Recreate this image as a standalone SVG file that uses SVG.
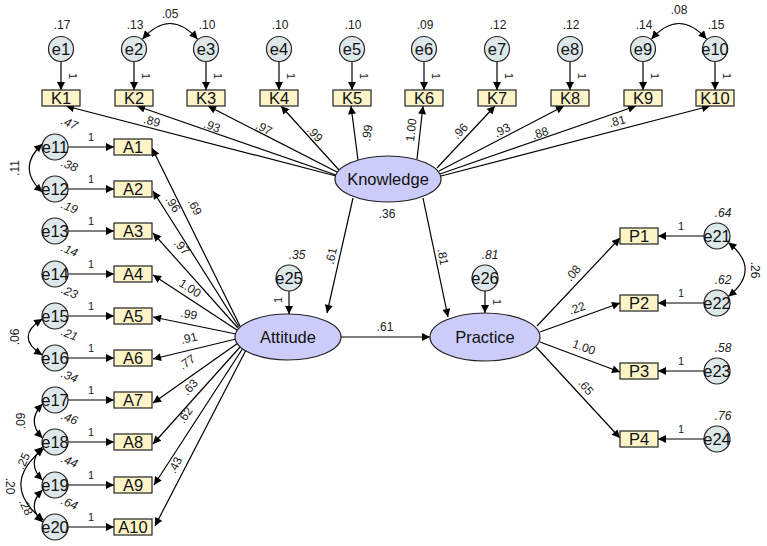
<svg xmlns="http://www.w3.org/2000/svg" width="767" height="546" viewBox="0 0 767 546">
<defs>
<marker id="ah" viewBox="0 0 10 10" refX="10" refY="5" markerWidth="11" markerHeight="8" markerUnits="userSpaceOnUse" orient="auto-start-reverse"><path d="M0,0 L10,5 L0,10 z" fill="#000"/></marker>
<style>
.err{fill:#dde8ea;stroke:#222;stroke-width:1.2}
.obs{fill:#fdf5c8;stroke:#222;stroke-width:1.2}
.lat{fill:#ccccfa;stroke:#222;stroke-width:1.2}
.lbl{font-family:"Liberation Sans",Arial,sans-serif;font-size:16.5px;fill:#111;text-anchor:middle}
.num{font-family:"Liberation Sans",Arial,sans-serif;font-size:12px;fill:#222;text-anchor:middle}
.it{font-style:italic}
.one{font-family:"Liberation Sans",Arial,sans-serif;font-size:11px;fill:#222;text-anchor:middle}
.p{stroke:#000;stroke-width:1.2;fill:none;marker-end:url(#ah)}
.c{stroke:#000;stroke-width:1.2;fill:none;marker-start:url(#ah);marker-end:url(#ah)}
</style>
</defs>
<rect width="767" height="546" fill="#fff"/>

<g id="connectors">
<line class="p" x1="61" y1="61.5" x2="61" y2="90"/>
<line class="p" x1="134" y1="61.5" x2="134" y2="90"/>
<line class="p" x1="206" y1="61.5" x2="206" y2="90"/>
<line class="p" x1="279" y1="61.5" x2="279" y2="90"/>
<line class="p" x1="352" y1="61.5" x2="352" y2="90"/>
<line class="p" x1="424" y1="61.5" x2="424" y2="90"/>
<line class="p" x1="497" y1="61.5" x2="497" y2="90"/>
<line class="p" x1="570" y1="61.5" x2="570" y2="90"/>
<line class="p" x1="643" y1="61.5" x2="643" y2="90"/>
<line class="p" x1="715" y1="61.5" x2="715" y2="90"/>
<path class="c" d="M142.5,39 Q170,8 197.5,39"/>
<path class="c" d="M651.5,39 Q679,8 706.5,39"/>
<line class="p" x1="336" y1="176" x2="66" y2="106"/>
<line class="p" x1="336" y1="175" x2="137" y2="106"/>
<line class="p" x1="337" y1="172" x2="208" y2="106"/>
<line class="p" x1="339" y1="170" x2="281" y2="106"/>
<line class="p" x1="358" y1="160" x2="351" y2="106"/>
<line class="p" x1="417" y1="159" x2="423" y2="106"/>
<line class="p" x1="437" y1="168" x2="495" y2="106"/>
<line class="p" x1="439" y1="171" x2="564" y2="106"/>
<line class="p" x1="440" y1="174" x2="636" y2="106"/>
<line class="p" x1="441" y1="176" x2="710" y2="106"/>
<line class="p" x1="68" y1="147" x2="114" y2="147"/>
<line class="p" x1="68" y1="189" x2="114" y2="189"/>
<line class="p" x1="68" y1="231" x2="114" y2="231"/>
<line class="p" x1="68" y1="274" x2="114" y2="274"/>
<line class="p" x1="68" y1="316" x2="114" y2="316"/>
<line class="p" x1="68" y1="358" x2="114" y2="358"/>
<line class="p" x1="68" y1="400" x2="114" y2="400"/>
<line class="p" x1="68" y1="442" x2="114" y2="442"/>
<line class="p" x1="68" y1="485" x2="114" y2="485"/>
<line class="p" x1="68" y1="527" x2="114" y2="527"/>
<path class="c" d="M42.3,144 Q16,168 42.3,192"/>
<path class="c" d="M42.3,319 Q14,337 42.3,355"/>
<path class="c" d="M42.5,404 Q26,421 42.5,438"/>
<path class="c" d="M42.5,447 Q26,463.5 42.5,480"/>
<path class="c" d="M42.5,490 Q26,506 42.5,522"/>
<path class="c" d="M43.7,448.5 Q-2,485 43.7,520.5"/>
<line class="p" x1="240" y1="326" x2="152" y2="148"/>
<line class="p" x1="239" y1="327" x2="153" y2="191"/>
<line class="p" x1="238" y1="328" x2="153" y2="233"/>
<line class="p" x1="237" y1="330" x2="153" y2="275"/>
<line class="p" x1="236" y1="334" x2="153" y2="317"/>
<line class="p" x1="236" y1="339" x2="153" y2="359"/>
<line class="p" x1="238" y1="343" x2="153" y2="403"/>
<line class="p" x1="241" y1="346" x2="153" y2="444"/>
<line class="p" x1="243" y1="348" x2="154" y2="485"/>
<line class="p" x1="246" y1="350" x2="155" y2="526"/>
<line class="p" x1="353" y1="198" x2="327" y2="313"/>
<line class="p" x1="423" y1="198" x2="448" y2="317"/>
<line class="p" x1="341" y1="337" x2="430" y2="337"/>
<line class="p" x1="289" y1="291" x2="289" y2="314"/>
<line class="p" x1="485" y1="291" x2="485" y2="313"/>
<line class="p" x1="537" y1="326" x2="620" y2="238"/>
<line class="p" x1="540" y1="332" x2="620" y2="303"/>
<line class="p" x1="540" y1="342" x2="620" y2="372"/>
<line class="p" x1="536" y1="347" x2="620" y2="438"/>
<line class="p" x1="704" y1="236" x2="658" y2="236"/>
<line class="p" x1="704" y1="303" x2="658" y2="303"/>
<line class="p" x1="704" y1="371" x2="658" y2="371"/>
<line class="p" x1="704" y1="439" x2="658" y2="439"/>
<path class="c" d="M728.3,242.5 Q762,269.5 728.3,296.5"/>

<g class="one">
<text transform="translate(73,76) rotate(90)" dy=".35em">1</text>
<text transform="translate(146,76) rotate(90)" dy=".35em">1</text>
<text transform="translate(218,76) rotate(90)" dy=".35em">1</text>
<text transform="translate(291,76) rotate(90)" dy=".35em">1</text>
<text transform="translate(364,76) rotate(90)" dy=".35em">1</text>
<text transform="translate(436,76) rotate(90)" dy=".35em">1</text>
<text transform="translate(509,76) rotate(90)" dy=".35em">1</text>
<text transform="translate(582,76) rotate(90)" dy=".35em">1</text>
<text transform="translate(655,76) rotate(90)" dy=".35em">1</text>
<text transform="translate(727,76) rotate(90)" dy=".35em">1</text>
<text transform="translate(278,300) rotate(-90)" dy=".35em">1</text>
<text transform="translate(497,302) rotate(90)" dy=".35em">1</text>
<text x="91" y="141">1</text>
<text x="91" y="183">1</text>
<text x="91" y="225">1</text>
<text x="91" y="268">1</text>
<text x="91" y="310">1</text>
<text x="91" y="352">1</text>
<text x="91" y="394">1</text>
<text x="91" y="436">1</text>
<text x="91" y="479">1</text>
<text x="91" y="521">1</text>
<text x="681" y="230">1</text>
<text x="681" y="297">1</text>
<text x="681" y="365">1</text>
<text x="681" y="433">1</text>
</g>

<g class="num">
<text x="170" y="18">.05</text>
<text x="679" y="14">.08</text>
<text transform="translate(152,121) rotate(14.5)" dy=".35em">.89</text>
<text transform="translate(212,126) rotate(19)" dy=".35em">.93</text>
<text transform="translate(264,128) rotate(27)" dy=".35em">.97</text>
<text transform="translate(315,134) rotate(48)" dy=".35em">.99</text>
<text transform="translate(367,133) rotate(-82)" dy=".35em">.99</text>
<text transform="translate(411,130) rotate(-84)" dy=".35em">1.00</text>
<text transform="translate(460,131) rotate(-47)" dy=".35em">.96</text>
<text transform="translate(502,130) rotate(-28)" dy=".35em">.93</text>
<text transform="translate(540,133) rotate(-19)" dy=".35em">.88</text>
<text transform="translate(617,121) rotate(-14.5)" dy=".35em">.81</text>
<text transform="translate(195,207) rotate(64)" dy=".35em">.69</text>
<text transform="translate(173,204) rotate(57)" dy=".35em">.96</text>
<text transform="translate(182,247) rotate(48)" dy=".35em">.97</text>
<text transform="translate(190,288) rotate(33)" dy=".35em">1.00</text>
<text transform="translate(189,314) rotate(11)" dy=".35em">.99</text>
<text transform="translate(189,338) rotate(-13)" dy=".35em">.91</text>
<text transform="translate(187,362) rotate(-35)" dy=".35em">.77</text>
<text transform="translate(190,387) rotate(-48)" dy=".35em">.63</text>
<text transform="translate(185,415) rotate(-57)" dy=".35em">.62</text>
<text transform="translate(175,465) rotate(-63)" dy=".35em">.43</text>
<text transform="translate(15,168) rotate(-90)" dy=".35em">.11</text>
<text transform="translate(15,337) rotate(-90)" dy=".35em">.06</text>
<text transform="translate(21,421) rotate(-90)" dy=".35em">.09</text>
<text transform="translate(23,461) rotate(-65)" dy=".35em">.25</text>
<text transform="translate(10,486) rotate(90)" dy=".35em">.20</text>
<text transform="translate(26,507) rotate(65)" dy=".35em">.28</text>
<text transform="translate(331,256) rotate(-77)" dy=".35em">.61</text>
<text transform="translate(443,257) rotate(80)" dy=".35em">.81</text>
<text x="387" y="218">.36</text>
<text x="385" y="331">.61</text>
<text transform="translate(573,273) rotate(-50)" dy=".35em">.08</text>
<text transform="translate(577,308) rotate(-20)" dy=".35em">.22</text>
<text transform="translate(584,347) rotate(20)" dy=".35em">1.00</text>
<text transform="translate(586,387) rotate(50)" dy=".35em">.65</text>
<text transform="translate(755,270) rotate(90)" dy=".35em">.26</text>
</g>
</g>

<g id="Knowledge"><ellipse class="lat" cx="388" cy="179" rx="53" ry="23"/><text class="lbl" x="388" y="179" dy=".35em">Knowledge</text></g>
<g id="Attitude"><ellipse class="lat" cx="288" cy="337" rx="53" ry="23"/><text class="lbl" x="288" y="337" dy=".35em">Attitude</text></g>
<g id="Practice"><ellipse class="lat" cx="485" cy="337" rx="55" ry="24"/><text class="lbl" x="485" y="337" dy=".35em">Practice</text></g>

<g id="e1"><circle class="err" cx="61" cy="49" r="12.5"/><text class="lbl" x="61" y="49" dy=".35em">e1</text><text class="num" x="62" y="29">.17</text></g>
<g id="e2"><circle class="err" cx="134" cy="49" r="12.5"/><text class="lbl" x="134" y="49" dy=".35em">e2</text><text class="num" x="135" y="29">.13</text></g>
<g id="e3"><circle class="err" cx="206" cy="49" r="12.5"/><text class="lbl" x="206" y="49" dy=".35em">e3</text><text class="num" x="207" y="29">.10</text></g>
<g id="e4"><circle class="err" cx="279" cy="49" r="12.5"/><text class="lbl" x="279" y="49" dy=".35em">e4</text><text class="num" x="280" y="29">.10</text></g>
<g id="e5"><circle class="err" cx="352" cy="49" r="12.5"/><text class="lbl" x="352" y="49" dy=".35em">e5</text><text class="num" x="353" y="29">.10</text></g>
<g id="e6"><circle class="err" cx="424" cy="49" r="12.5"/><text class="lbl" x="424" y="49" dy=".35em">e6</text><text class="num" x="425" y="29">.09</text></g>
<g id="e7"><circle class="err" cx="497" cy="49" r="12.5"/><text class="lbl" x="497" y="49" dy=".35em">e7</text><text class="num" x="498" y="29">.12</text></g>
<g id="e8"><circle class="err" cx="570" cy="49" r="12.5"/><text class="lbl" x="570" y="49" dy=".35em">e8</text><text class="num" x="571" y="29">.12</text></g>
<g id="e9"><circle class="err" cx="643" cy="49" r="12.5"/><text class="lbl" x="643" y="49" dy=".35em">e9</text><text class="num" x="644" y="29">.14</text></g>
<g id="e10"><circle class="err" cx="715" cy="49" r="12.5"/><text class="lbl" x="715" y="49" dy=".35em">e10</text><text class="num" x="716" y="29">.15</text></g>

<g id="K1"><rect class="obs" x="42" y="90" width="38" height="16"/><text class="lbl" x="61" y="98" dy=".35em">K1</text></g>
<g id="K2"><rect class="obs" x="115" y="90" width="38" height="16"/><text class="lbl" x="134" y="98" dy=".35em">K2</text></g>
<g id="K3"><rect class="obs" x="187" y="90" width="38" height="16"/><text class="lbl" x="206" y="98" dy=".35em">K3</text></g>
<g id="K4"><rect class="obs" x="260" y="90" width="38" height="16"/><text class="lbl" x="279" y="98" dy=".35em">K4</text></g>
<g id="K5"><rect class="obs" x="333" y="90" width="38" height="16"/><text class="lbl" x="352" y="98" dy=".35em">K5</text></g>
<g id="K6"><rect class="obs" x="405" y="90" width="38" height="16"/><text class="lbl" x="424" y="98" dy=".35em">K6</text></g>
<g id="K7"><rect class="obs" x="478" y="90" width="38" height="16"/><text class="lbl" x="497" y="98" dy=".35em">K7</text></g>
<g id="K8"><rect class="obs" x="551" y="90" width="38" height="16"/><text class="lbl" x="570" y="98" dy=".35em">K8</text></g>
<g id="K9"><rect class="obs" x="624" y="90" width="38" height="16"/><text class="lbl" x="643" y="98" dy=".35em">K9</text></g>
<g id="K10"><rect class="obs" x="696" y="90" width="38" height="16"/><text class="lbl" x="715" y="98" dy=".35em">K10</text></g>

<g id="A1"><rect class="obs" x="114" y="139" width="38" height="16"/><text class="lbl" x="133" y="147" dy=".35em">A1</text></g>
<g id="A2"><rect class="obs" x="114" y="181" width="38" height="16"/><text class="lbl" x="133" y="189" dy=".35em">A2</text></g>
<g id="A3"><rect class="obs" x="114" y="223" width="38" height="16"/><text class="lbl" x="133" y="231" dy=".35em">A3</text></g>
<g id="A4"><rect class="obs" x="114" y="266" width="38" height="16"/><text class="lbl" x="133" y="274" dy=".35em">A4</text></g>
<g id="A5"><rect class="obs" x="114" y="308" width="38" height="16"/><text class="lbl" x="133" y="316" dy=".35em">A5</text></g>
<g id="A6"><rect class="obs" x="114" y="350" width="38" height="16"/><text class="lbl" x="133" y="358" dy=".35em">A6</text></g>
<g id="A7"><rect class="obs" x="114" y="392" width="38" height="16"/><text class="lbl" x="133" y="400" dy=".35em">A7</text></g>
<g id="A8"><rect class="obs" x="114" y="434" width="38" height="16"/><text class="lbl" x="133" y="442" dy=".35em">A8</text></g>
<g id="A9"><rect class="obs" x="114" y="477" width="38" height="16"/><text class="lbl" x="133" y="485" dy=".35em">A9</text></g>
<g id="A10"><rect class="obs" x="114" y="519" width="38" height="16"/><text class="lbl" x="133" y="527" dy=".35em">A10</text></g>

<g id="e11"><circle class="err" cx="55" cy="147" r="13"/><text class="lbl" x="55" y="147" dy=".35em">e11</text><text class="num it" transform="translate(68,127) rotate(22)">.47</text></g>
<g id="e12"><circle class="err" cx="55" cy="189" r="13"/><text class="lbl" x="55" y="189" dy=".35em">e12</text><text class="num it" transform="translate(68,169) rotate(22)">.38</text></g>
<g id="e13"><circle class="err" cx="55" cy="231" r="13"/><text class="lbl" x="55" y="231" dy=".35em">e13</text><text class="num it" transform="translate(68,211) rotate(22)">.19</text></g>
<g id="e14"><circle class="err" cx="55" cy="274" r="13"/><text class="lbl" x="55" y="274" dy=".35em">e14</text><text class="num it" transform="translate(68,254) rotate(22)">.14</text></g>
<g id="e15"><circle class="err" cx="55" cy="316" r="13"/><text class="lbl" x="55" y="316" dy=".35em">e15</text><text class="num it" transform="translate(68,296) rotate(22)">.23</text></g>
<g id="e16"><circle class="err" cx="55" cy="358" r="13"/><text class="lbl" x="55" y="358" dy=".35em">e16</text><text class="num it" transform="translate(68,338) rotate(22)">.21</text></g>
<g id="e17"><circle class="err" cx="55" cy="400" r="13"/><text class="lbl" x="55" y="400" dy=".35em">e17</text><text class="num it" transform="translate(68,380) rotate(22)">.34</text></g>
<g id="e18"><circle class="err" cx="55" cy="442" r="13"/><text class="lbl" x="55" y="442" dy=".35em">e18</text><text class="num it" transform="translate(68,422) rotate(22)">.46</text></g>
<g id="e19"><circle class="err" cx="55" cy="485" r="13"/><text class="lbl" x="55" y="485" dy=".35em">e19</text><text class="num it" transform="translate(68,465) rotate(22)">.44</text></g>
<g id="e20"><circle class="err" cx="55" cy="527" r="13"/><text class="lbl" x="55" y="527" dy=".35em">e20</text><text class="num it" transform="translate(68,507) rotate(22)">.64</text></g>

<g id="e25"><circle class="err" cx="289" cy="278" r="13"/><text class="lbl" x="289" y="278" dy=".35em">e25</text><text class="num it" x="297" y="259">.35</text></g>
<g id="e26"><circle class="err" cx="485" cy="278" r="13"/><text class="lbl" x="485" y="278" dy=".35em">e26</text><text class="num it" x="490" y="259">.81</text></g>

<g id="P1"><rect class="obs" x="620" y="228" width="38" height="16"/><text class="lbl" x="639" y="236" dy=".35em">P1</text></g>
<g id="P2"><rect class="obs" x="620" y="295" width="38" height="16"/><text class="lbl" x="639" y="303" dy=".35em">P2</text></g>
<g id="P3"><rect class="obs" x="620" y="363" width="38" height="16"/><text class="lbl" x="639" y="371" dy=".35em">P3</text></g>
<g id="P4"><rect class="obs" x="620" y="431" width="38" height="16"/><text class="lbl" x="639" y="439" dy=".35em">P4</text></g>

<g id="e21"><circle class="err" cx="717" cy="236" r="13"/><text class="lbl" x="717" y="236" dy=".35em">e21</text><text class="num it" x="723" y="217">.64</text></g>
<g id="e22"><circle class="err" cx="717" cy="303" r="13"/><text class="lbl" x="717" y="303" dy=".35em">e22</text><text class="num it" x="723" y="284">.62</text></g>
<g id="e23"><circle class="err" cx="717" cy="371" r="13"/><text class="lbl" x="717" y="371" dy=".35em">e23</text><text class="num it" x="723" y="352">.58</text></g>
<g id="e24"><circle class="err" cx="717" cy="439" r="13"/><text class="lbl" x="717" y="439" dy=".35em">e24</text><text class="num it" x="723" y="420">.76</text></g>
</svg>
